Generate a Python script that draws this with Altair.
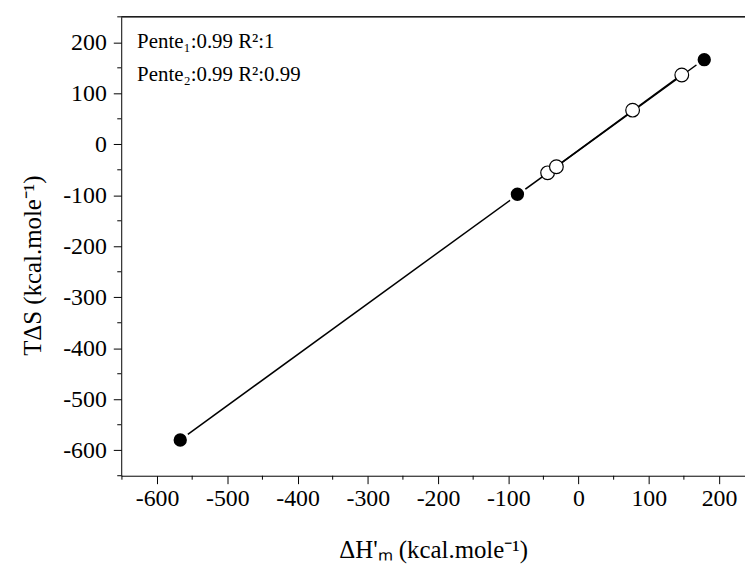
import altair as alt
import pandas as pd

# Series 1 (filled circles)
s1_x = [-567, -87, 179]
s1_y = [-580, -98, 166]
# Series 2 (open circles)
s2_x = [-44, -31.5, 77, 147]
s2_y = [-56, -44, 67, 136]

ann_lines = ["Pente\u2081:0.99 R\u00b2:1", "Pente\u2082:0.99 R\u00b2:0.99"]

x_major = list(range(-600, 201, 100))
y_major = list(range(-600, 201, 100))
x_minor = [-650, -550, -450, -350, -250, -150, -50, 50, 150]
y_minor = [-650, -550, -450, -350, -250, -150, -50, 50, 150, 250]

W, H = 628, 462

df = pd.DataFrame({
    "x": s1_x + s2_x,
    "y": s1_y + s2_y,
    "series": ["1"] * len(s1_x) + ["2"] * len(s2_x),
})
ann = pd.DataFrame({"text": ann_lines, "row": [0, 1]})
xmin_df = pd.DataFrame({"v": x_minor})
ymin_df = pd.DataFrame({"v": y_minor})

FONT = "Liberation Serif, Times New Roman, serif"
LBL = "'' + datum.value"

xscale = alt.Scale(domain=[-651, 237], nice=False, zero=False)
yscale = alt.Scale(domain=[-650, 250], nice=False, zero=False)

x_axis = alt.Axis(values=x_major, tickSize=8, grid=False, labelExpr=LBL,
                  title="\u0394H'\u2098 (kcal.mole\u207b\u00b9)", labelOverlap=False,
                  labelFont=FONT, labelFontSize=24, titleFont=FONT, titleFontSize=25,
                  titleFontWeight="normal", labelColor="black", titleColor="black",
                  domainColor="black", tickColor="black", labelPadding=3, titlePadding=27,
                  labelFlush=False)
y_axis = alt.Axis(values=y_major, tickSize=8, grid=False, labelExpr=LBL,
                  title="T\u0394S (kcal.mole\u207b\u00b9)", labelOverlap=False,
                  labelFont=FONT, labelFontSize=24, titleFont=FONT, titleFontSize=25,
                  titleFontWeight="normal", labelColor="black", titleColor="black",
                  domainColor="black", tickColor="black", labelPadding=7, titlePadding=17,
                  titleY=250, labelFlush=False)

base = alt.Chart(df)

lines = base.transform_regression("x", "y", groupby=["series"]).mark_line(
    color="black", strokeWidth=1.5
).encode(
    x=alt.X("x:Q", scale=xscale, axis=x_axis),
    y=alt.Y("y:Q", scale=yscale, axis=y_axis),
    detail="series:N",
)

filled_pts = base.transform_filter("datum.series == '1'").mark_point(
    shape="circle", filled=True, fill="black", stroke="white", strokeWidth=3,
    size=270, opacity=1
).encode(
    x=alt.X("x:Q", scale=xscale),
    y=alt.Y("y:Q", scale=yscale),
)

open_pts = base.transform_filter("datum.series == '2'").mark_point(
    shape="circle", filled=True, fill="white", stroke="black", strokeWidth=1.2,
    size=190, opacity=1
).encode(
    x=alt.X("x:Q", scale=xscale),
    y=alt.Y("y:Q", scale=yscale),
)

# minor ticks
x_minor_ticks = alt.Chart(xmin_df).mark_rule(color="black", strokeWidth=1, clip=False).encode(
    x=alt.X("v:Q", scale=xscale),
    y=alt.value(H),
    y2=alt.value(H + 4),
)
y_minor_ticks = alt.Chart(ymin_df).mark_rule(color="black", strokeWidth=1, clip=False).encode(
    y=alt.Y("v:Q", scale=yscale),
    x=alt.value(0),
    x2=alt.value(-4),
)

# top frame line
top_line = alt.Chart(ann).mark_rule(color="black", strokeWidth=1).encode(
    x=alt.value(0), x2=alt.value(W), y=alt.value(0)
)

text = alt.Chart(ann).transform_calculate(py="31 + datum.row * 34").mark_text(
    align="left", baseline="alphabetic", font=FONT, fontSize=21, color="black"
).encode(
    x=alt.value(16),
    y=alt.Y("py:Q", scale=None),
    text="text:N",
)

chart = alt.layer(lines, filled_pts, open_pts, x_minor_ticks, y_minor_ticks, top_line, text).properties(
    width=W, height=H,
    autosize=alt.AutoSizeParams(type="none"),
    padding={"left": 114, "top": 7, "right": 0, "bottom": 90},
    background="white",
).configure_view(stroke=None)

chart.save("out.html", embed_options={"renderer": "svg", "actions": False})
